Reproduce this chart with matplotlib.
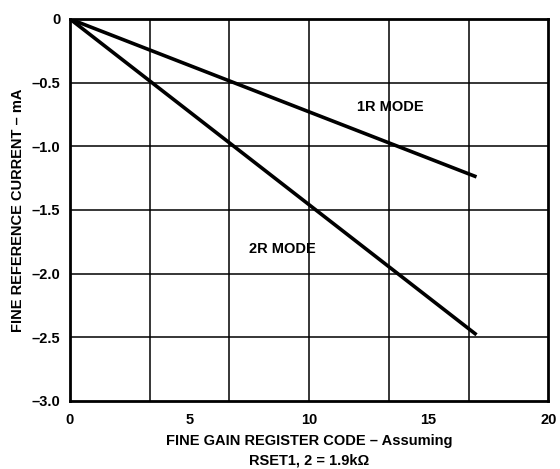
import matplotlib
matplotlib.use('Agg')
import matplotlib.pyplot as plt

# data
codes = [0, 17]
current_1r = [0, -1.24]
current_2r = [0, -2.48]
xticks = [0, 5, 10, 15, 20]
yticks = [0, -0.5, -1.0, -1.5, -2.0, -2.5, -3.0]
ytick_labels = ['0', '\u20130.5', '\u20131.0', '\u20131.5', '\u20132.0', '\u20132.5', '\u20133.0']
xgrid = [20 / 6 * i for i in range(1, 6)]

plt.rcParams['font.family'] = ['Liberation Sans', 'DejaVu Sans']
plt.rcParams['font.weight'] = 'bold'

fig = plt.figure(figsize=(5.6, 4.69), dpi=100)
ax = fig.add_axes([0.125, 0.145, 0.854, 0.8145])

# grid
for x in xgrid:
    ax.axvline(x, color='black', lw=1.1, zorder=1)
for y in yticks[1:-1]:
    ax.axhline(y, color='black', lw=1.1, zorder=1)

ax.plot(codes, current_1r, color='black', lw=2.6, solid_capstyle='butt', zorder=3)
ax.plot(codes, current_2r, color='black', lw=2.6, solid_capstyle='butt', zorder=3)

ax.text(13.4, -0.69, '1R MODE', fontsize=10.5, fontweight='bold', ha='center', va='center')
ax.text(8.87, -1.81, '2R MODE', fontsize=10.5, fontweight='bold', ha='center', va='center')

ax.set_xlim(0, 20)
ax.set_ylim(-3.0, 0)
ax.set_xticks(xticks)
ax.set_yticks(yticks)
ax.set_yticklabels(ytick_labels)
ax.tick_params(axis='both', length=0, labelsize=10.5)
ax.tick_params(axis='x', pad=9)
ax.tick_params(axis='y', pad=7)
for lbl in ax.get_xticklabels() + ax.get_yticklabels():
    lbl.set_fontweight('bold')
for s in ax.spines.values():
    s.set_linewidth(2)

ax.set_xlabel('FINE GAIN REGISTER CODE \u2013 Assuming\nRSET1, 2 = 1.9k\u03a9',
              fontsize=10.5, fontweight='bold', labelpad=5, linespacing=1.5)
ax.set_ylabel('FINE REFERENCE CURRENT \u2013 mA', fontsize=10.5, fontweight='bold', labelpad=5)

fig.savefig('out.png', dpi=100)
